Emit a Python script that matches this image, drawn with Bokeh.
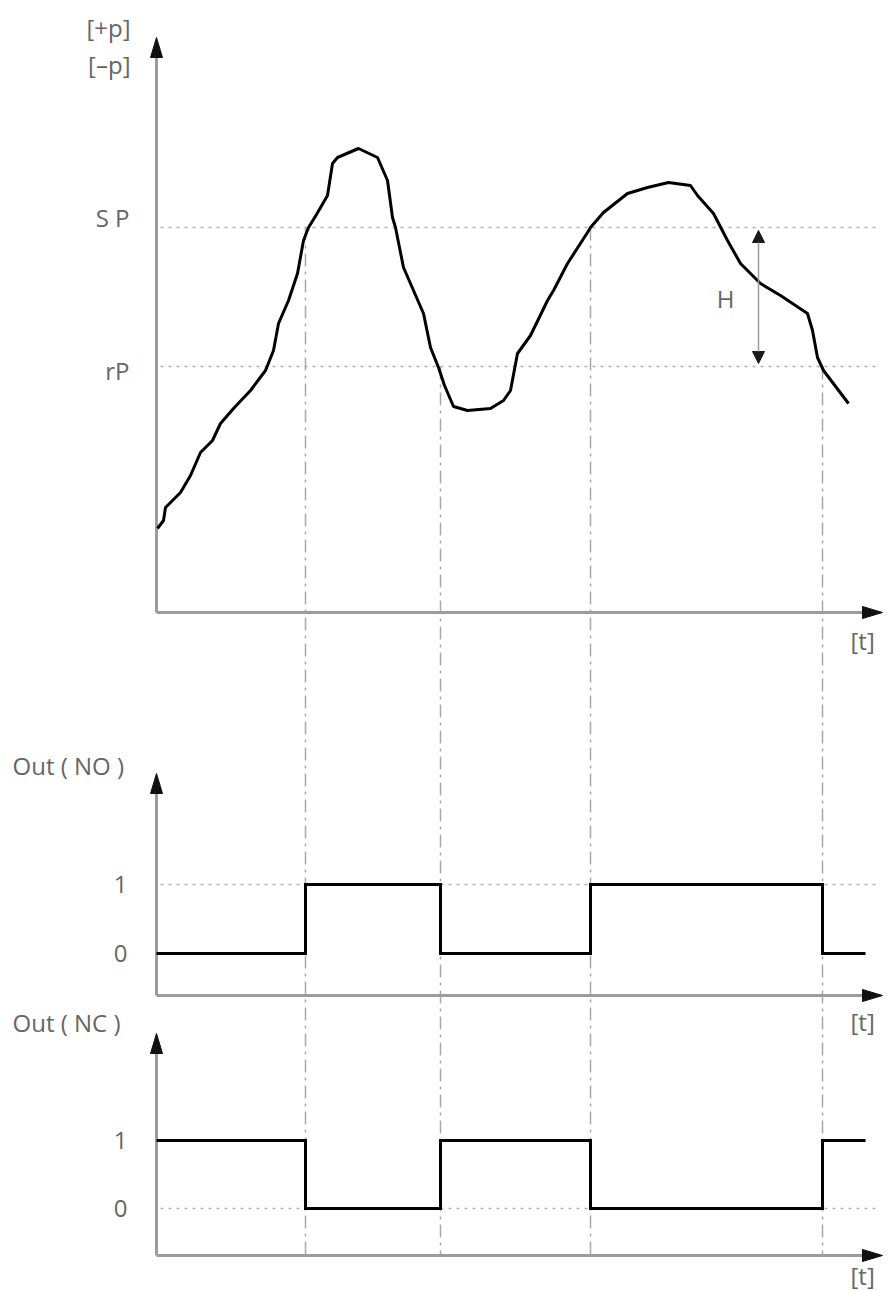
from bokeh.plotting import figure
from bokeh.models import Range1d, Arrow, NormalHead
from bokeh.core.properties import value
from bokeh.embed import file_html
from bokeh.resources import INLINE

# ---------------- data ----------------
# pressure curve (time units, pressure units)
t_curve = [0.1, 0.7, 0.9, 2.4, 3.4, 4.4, 5.6, 6.4, 7.7, 9.4, 10.9, 11.7, 12.2, 13.2,
           14.1, 14.7, 15.2, 16.0, 17.1, 17.6, 18.1, 20.2, 22.1, 23.1, 23.6, 23.9,
           24.7, 26.7, 27.4, 28.2, 28.8, 29.7, 31.1, 33.4, 34.7, 35.4, 36.1, 37.4,
           39.1, 39.7, 41.1, 43.1, 43.4, 44.7, 47.1, 49.1, 51.2, 53.4, 54.1, 55.7,
           57.1, 58.4, 60.4, 62.4, 65.1, 65.6, 66.1, 66.7, 69.2]
p_curve = [8.4, 9.2, 10.5, 12.0, 13.7, 16.0, 17.2, 18.9, 20.4, 22.2, 24.2, 26.2, 28.9, 31.2,
           33.9, 37.2, 38.5, 39.8, 41.7, 44.9, 45.5, 46.4, 45.5, 43.2, 39.5, 38.5,
           34.5, 29.9, 26.5, 24.5, 22.7, 20.6, 20.2, 20.4, 21.2, 22.2, 25.9, 27.7,
           31.2, 32.2, 34.9, 38.0, 38.5, 40.0, 41.9, 42.5, 43.0, 42.7, 41.7, 39.9,
           37.2, 34.9, 32.9, 31.7, 29.9, 28.2, 25.5, 24.2, 20.9]
SP = 38.5
rP = 24.6
H_t = 60.2

# switching outputs
switch_t = [0, 14.9, 28.4, 43.4, 66.6, 70.9]
no_state = [0, 1, 0, 1, 0, 0]
nc_state = [1, 0, 1, 0, 1, 1]
edge_t = [14.9, 28.4, 43.4, 66.6]
edge_start = [SP, rP, SP, rP]

# labels
p_labels = ["[+p]", "[\u2013p]", "S P", "rP"]
out_labels = ["Out ( NO )", "Out ( NC )"]
state_labels = ["1", "0"]
t_label = "[t]"
h_label = "H"

# ---------------- layout ----------------
W, HGT = 883, 1291
TOP, BOT = 0, HGT                # picture pixels covered by the figure
LEFT, RIGHT = 0, W
X0_PX, X_UNIT = 156, 10.0        # t = 0 at px 156, 10 px per unit
panels = {"default": (612, 10.0), "no": (953, 69.0), "nc": (1208, 68.0)}
axis_px = {"default": (612, 37), "no": (995, 773), "nc": (1255, 1033)}


def tv(px):
    return (px - X0_PX) / X_UNIT


def yv(name, px):
    z, u = panels[name]
    return (z - px) / u


def yrange(name):
    return Range1d(yv(name, BOT), yv(name, TOP))


p = figure(width=W, height=HGT, output_backend="svg", toolbar_location=None,
           x_range=Range1d(tv(LEFT), tv(RIGHT)), y_range=yrange("default"),
           x_axis_type=None, y_axis_type=None, min_border=0)
p.extra_y_ranges = {"no": yrange("no"), "nc": yrange("nc")}
p.grid.visible = False
p.outline_line_color = None
p.background_fill_color = "white"

AX_COL = "#9c9c9c"
DOT_COL = "#b0b0b0"
TXT_COL = "#666666"
FONT = value("Open Sans")
FS = "24px"
x_tip = tv(882)
head_len, head_hw = 20, 6

# dotted reference levels
for name, lvl in [("default", SP), ("default", rP), ("no", 1), ("nc", 0)]:
    p.line([tv(160), tv(880)], [lvl, lvl], y_range_name=name,
           line_color=DOT_COL, line_width=1.6, line_dash="3 5")

# dash-dot switching verticals
p.segment(x0=edge_t, y0=edge_start, x1=edge_t,
          y1=[yv("default", axis_px["nc"][0])] * len(edge_t),
          line_color="#a8a8a8", line_width=1.5, line_dash="13 5 3 5")

# axes with arrow heads
for name, (base_px, tip_px) in axis_px.items():
    base = yv(name, base_px)
    tip = yv(name, tip_px)
    hl_y = head_len / panels[name][1]
    hw_y = head_hw / panels[name][1]
    hl_x = head_len / X_UNIT
    hw_x = head_hw / X_UNIT
    p.line([0, 0], [base, tip - hl_y * 0.6], y_range_name=name,
           line_color=AX_COL, line_width=3)
    p.line([0, x_tip - hl_x * 0.6], [base, base], y_range_name=name,
           line_color=AX_COL, line_width=3)
    p.patches([[0, -hw_x, hw_x], [x_tip, x_tip - hl_x, x_tip - hl_x]],
              [[tip, tip - hl_y, tip - hl_y], [base, base + hw_y, base - hw_y]],
              y_range_name=name, fill_color="#111111", line_color="#111111", line_width=1)

# pressure curve
p.line(t_curve, p_curve, line_color="black", line_width=3, line_join="round")

# hysteresis arrow
hd = dict(size=12, fill_color="#1a1a1a", line_color="#1a1a1a")
p.add_layout(Arrow(start=NormalHead(**hd), end=NormalHead(**hd),
                   x_start=H_t, y_start=rP + 0.3, x_end=H_t, y_end=SP - 0.3,
                   line_color="#9a9a9a", line_width=1.5))

# output signals
p.step(switch_t, no_state, mode="after", y_range_name="no",
       line_color="black", line_width=3, line_join="miter")
p.step(switch_t, nc_state, mode="after", y_range_name="nc",
       line_color="black", line_width=3, line_join="miter")

txt = dict(text_font=FONT, text_font_size=FS, text_color=TXT_COL, text_baseline="middle")

# top panel labels
p.text(x=[tv(130)] * 2, y=[yv("default", 27), yv("default", 64)], text=p_labels[:2],
       text_align="right", **txt)
p.text(x=[tv(129)] * 2, y=[yv("default", 217), yv("default", 370)], text=p_labels[2:],
       text_align="right", **txt)
p.text(x=[tv(850)], y=[yv("default", 640)], text=[t_label], text_align="left", **txt)
p.text(x=[tv(725)], y=[yv("default", 298)], text=[h_label], text_align="center", **txt)

# output panel labels
for name, out_px, t_px in [("no", 765, 1021), ("nc", 1022, 1275)]:
    p.text(x=[tv(12)], y=[yv(name, out_px)], text=[out_labels[0 if name == "no" else 1]],
           y_range_name=name, text_align="left", **txt)
    p.text(x=[tv(127)] * 2, y=[1, 0], text=state_labels, y_range_name=name,
           text_align="right", **txt)
    p.text(x=[tv(850)], y=[yv(name, t_px)], text=[t_label], y_range_name=name,
           text_align="left", **txt)

open("out.html", "w").write(file_html(p, INLINE))
